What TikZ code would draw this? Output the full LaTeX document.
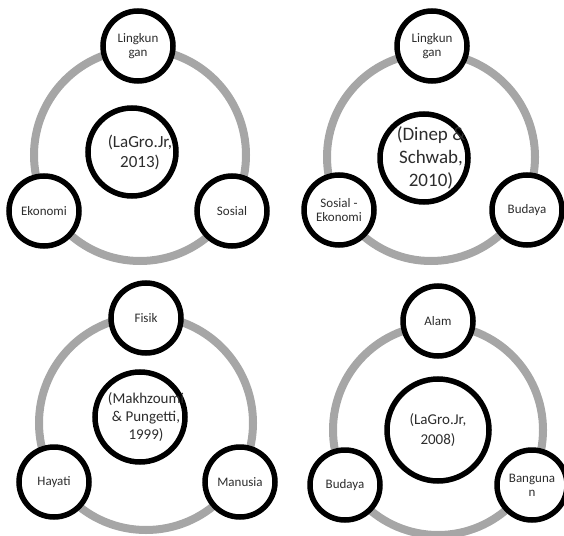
\documentclass[tikz,border=0pt]{standalone}
\usepackage{fontspec}
\setmainfont{Carlito}
\definecolor{ringgray}{RGB}{166,166,166}
\definecolor{txtgray}{RGB}{45,45,45}
\begin{document}
\begin{tikzpicture}[x=1bp,y=-1bp,
  ring/.style={draw=ringgray,line width=8bp},
  item/.style={circle,draw,line width=5.5bp,fill=white,minimum size=70bp,inner sep=0pt,
    align=center,text=txtgray,font=\fontsize{13bp}{14bp}\selectfont},
  hub/.style={circle,draw,line width=5.5bp,fill=white,minimum size=88bp,inner sep=0pt},
  hubtext/.style={align=center,inner sep=0pt,text=txtgray,font=\fontsize{17bp}{20bp}\selectfont}]
\useasboundingbox (0,0) rectangle (564,536);
% LaGro.Jr 2013
\coordinate (c1) at (140,155);
\draw[ring] (c1) circle[radius=106bp];
\node[item] (lk1) at (138,46) {Lingkun\\gan};
\node[item] (ek1) at (44,211) {Ekonomi};
\node[item] (so1) at (232,211) {Sosial};
\node[hub] (hub1) at (132,152) {};
\node[hubtext] (t1) at (c1 |- hub1) {(LaGro.Jr,\\2013)};
% Dinep & Schwab 2010
\coordinate (c2) at (431,157);
\draw[ring] (c2) circle[radius=104bp];
\node[item] (lk2) at (432,46) {Lingkun\\gan};
\node[item] (se2) at (339,210) {Sosial -\\Ekonomi};
\node[item] (bu2) at (527,210) {Budaya};
\node[hub] (hub2) at (424,158) {};
\node[hubtext,font=\fontsize{19bp}{23bp}\selectfont] (t2) at (c2 |- hub2) {(Dinep \&\\Schwab,\\2010)};
% Makhzoumi & Pungetti 1999
\coordinate (c3) at (146,423);
\draw[ring] (c3) circle[radius=107bp];
\node[item] (fi3) at (146,318) {Fisik};
\node[item] (ha3) at (54,482) {Hayati};
\node[item] (ma3) at (240,482) {Manusia};
\node[hub,minimum size=90bp] (hub3) at (140,417) {};
\node[hubtext,font=\fontsize{15bp}{18bp}\selectfont] (t3) at (c3 |- hub3) {(Makhzoumi\\\& Pungetti,\\1999)};
% LaGro.Jr 2008
\coordinate (c4) at (438,430);
\draw[ring] (c4) circle[radius=105bp];
\node[item] (al4) at (438,321) {Alam};
\node[item] (bd4) at (345,485) {Budaya};
\node[item] (bg4) at (532,485) {Banguna\\n};
\node[hub,minimum size=102bp] (hub4) at (438,430) {};
\node[hubtext,font=\fontsize{15bp}{20bp}\selectfont] (t4) at (c4 |- hub4) {(LaGro.Jr,\\2008)};
\end{tikzpicture}
\end{document}
